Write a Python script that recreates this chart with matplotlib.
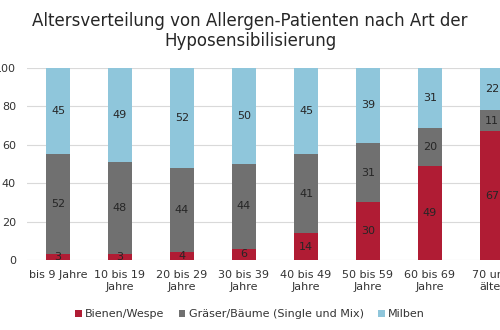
import matplotlib.pyplot as plt
import numpy as np

categories = ["bis 9 Jahre", "10 bis 19\nJahre", "20 bis 29\nJahre", "30 bis 39\nJahre",
              "40 bis 49\nJahre", "50 bis 59\nJahre", "60 bis 69\nJahre", "70 und\nälter"]
bienen = [3, 3, 4, 6, 14, 30, 49, 67]
graeser = [52, 48, 44, 44, 41, 31, 20, 11]
milben = [45, 49, 52, 50, 45, 39, 31, 22]
series_names = ["Bienen/Wespe", "Gräser/Bäume (Single und Mix)", "Milben"]
colors = ["#B01C34", "#707070", "#8FC6DB"]

fig = plt.figure(figsize=(5, 3.3), dpi=100)
ax = fig.add_axes([0.054, 0.212, 0.992, 0.582])

x = np.arange(len(categories))
bottom = np.zeros(len(categories))
for name, vals, col in zip(series_names, [bienen, graeser, milben], colors):
    ax.bar(x, vals, 0.39, bottom=bottom, color=col, label=name, zorder=2)
    for xi, b, v in zip(x, bottom, vals):
        ax.text(xi, b + v / 2, str(v), ha="center", va="center", fontsize=8, color="#262626", zorder=3)
    bottom += np.array(vals)

ax.set_xlim(-0.5, 7.5)
ax.set_ylim(0, 100)
ax.set_yticks(range(0, 101, 20))
ax.grid(axis="y", color="#D9D9D9", linewidth=0.8, zorder=0)
for s in ax.spines.values():
    s.set_visible(False)
ax.tick_params(axis="both", length=0, labelsize=8, colors="#333333")
ax.tick_params(axis="y", pad=8)
ax.tick_params(axis="x", pad=7)
ax.set_xticks(x)
ax.set_xticklabels(categories, linespacing=1.25)

fig.text(0.5, 0.965, "Altersverteilung von Allergen-Patienten nach Art der\nHyposensibilisierung",
         ha="center", va="top", fontsize=12, color="#262626", linespacing=1.15)

fig.legend(loc="center", bbox_to_anchor=(0.5, 0.048), ncol=3, frameon=False, fontsize=8,
           handlelength=0.6, handleheight=0.6, handletextpad=0.3, columnspacing=1.3,
           labelcolor="#333333")

fig.savefig("out.png", dpi=100)
